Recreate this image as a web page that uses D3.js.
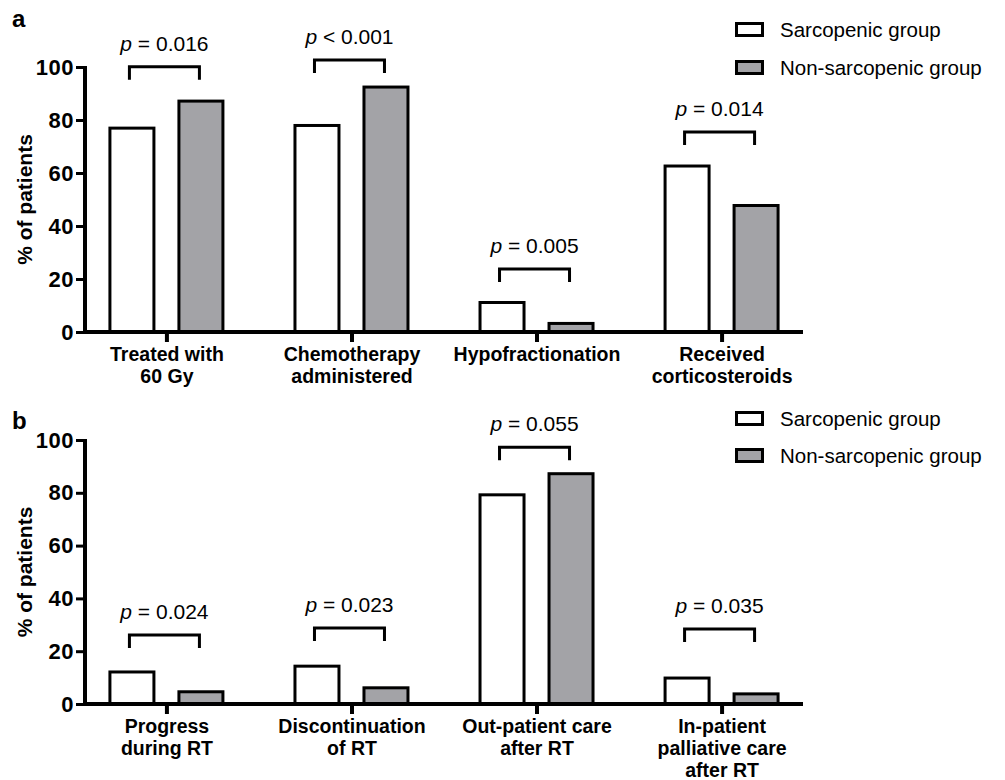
<!DOCTYPE html>
<html>
<head>
<meta charset="utf-8">
<script src="https://cdn.jsdelivr.net/npm/d3@7"></script>
<style>
  html, body { margin: 0; padding: 0; background: #fff; }
  svg { display: block; font-family: "Liberation Sans", Arial, Helvetica, sans-serif; }
</style>
</head>
<body>
<svg id="chart" width="1005" height="780"></svg>
<script>
// ---------------- data ----------------
const seriesNames = ["Sarcopenic group", "Non-sarcopenic group"];
const yTicks = [0, 20, 40, 60, 80, 100];

const panelACategories = [["Treated with", "60 Gy"], ["Chemotherapy", "administered"], ["Hypofractionation"], ["Received", "corticosteroids"]];
const panelASarcopenic = [77.5, 78.5, 11.7, 63.2];
const panelANonSarcopenic = [87.7, 93.0, 3.8, 48.3];
const panelAPValues = ["= 0.016", "< 0.001", "= 0.005", "= 0.014"];
const panelABracketLevels = [100.1, 102.6, 23.8, 75.5];

const panelBCategories = [["Progress", "during RT"], ["Discontinuation", "of RT"], ["Out-patient care", "after RT"], ["In-patient", "palliative care", "after RT"]];
const panelBSarcopenic = [12.7, 14.9, 79.8, 10.4];
const panelBNonSarcopenic = [5.2, 6.7, 87.8, 4.4];
const panelBPValues = ["= 0.024", "= 0.023", "= 0.055", "= 0.035"];
const panelBBracketLevels = [26.1, 28.8, 97.3, 28.4];

// ---------------- drawing ----------------
const svg = d3.select("#chart");
const colors = ["#ffffff", "#a3a3a7"];

function drawPanel(cfg) {
  const g = svg.append("g");
  const x = d3.scalePoint().domain(d3.range(cfg.categories.length)).range([85, 803]).padding(0.44);
  const y = d3.scaleLinear().domain([0, 100]).range([cfg.y0, cfg.y100]);

  // panel letter
  g.append("text").attr("x", 12).attr("y", cfg.letterY)
    .attr("font-size", 24).attr("font-weight", "bold").text(cfg.letter);

  // y title
  g.append("text")
    .attr("transform", `translate(32,${(cfg.y0 + cfg.y100) / 2}) rotate(-90)`)
    .attr("text-anchor", "middle").attr("font-size", 21).attr("font-weight", "bold")
    .text("% of patients");

  // bars
  const barW = 47, gap = 11, sw = 3;
  const series = [cfg.sarc, cfg.non];
  series.forEach((vals, si) => {
    g.selectAll(null).data(vals).enter().append("rect")
      .attr("x", (d, i) => (si === 0 ? x(i) - gap - barW : x(i) + gap) + sw / 2)
      .attr("width", barW - sw)
      .attr("y", d => y(d) + sw / 2)
      .attr("height", d => y(0) - y(d) - sw / 2)
      .attr("fill", colors[si]).attr("stroke", "#000").attr("stroke-width", sw);
  });

  // y axis
  const yAxis = d3.axisLeft(y).tickValues(yTicks).tickSize(9).tickSizeOuter(0).tickPadding(2);
  const ya = g.append("g").attr("transform", "translate(85,0)").call(yAxis);
  ya.select(".domain").attr("stroke-width", 4).attr("d", `M0,${cfg.y100 - 1}V${cfg.y0 + 2}`);
  ya.selectAll(".tick line").attr("stroke-width", 3);
  ya.selectAll(".tick text").attr("font-size", 22).attr("font-weight", "bold")
    .attr("letter-spacing", 0.5).attr("fill", "#000").attr("font-family", null);

  // x axis
  const xAxis = d3.axisBottom(x).tickSize(10).tickSizeOuter(0).tickFormat("");
  const xa = g.append("g").attr("transform", `translate(0,${cfg.y0})`).call(xAxis);
  xa.select(".domain").attr("stroke-width", 4).attr("d", "M83,0H803");
  xa.selectAll(".tick line").attr("stroke-width", 4);
  xa.selectAll(".tick").each(function (d) {
    const t = d3.select(this).append("text").attr("fill", "#000")
      .attr("font-size", 19.5).attr("font-weight", "bold").attr("text-anchor", "middle")
      .attr("font-family", "Liberation Sans, Arial, sans-serif");
    cfg.categories[d].forEach((line, li) => {
      t.append("tspan").attr("x", 0).attr("y", 29 + li * 22).text(line);
    });
  });

  // significance brackets
  cfg.brackets.forEach((lvl, i) => {
    const top = y(lvl), x1 = x(i) - 37, x2 = x(i) + 33;
    g.append("path")
      .attr("d", `M${x1},${top + 13}V${top}H${x2}V${top + 13}`)
      .attr("fill", "none").attr("stroke", "#000").attr("stroke-width", 3);
    const t = g.append("text").attr("x", (x1 + x2) / 2).attr("y", top - 16)
      .attr("text-anchor", "middle").attr("font-size", 21);
    t.append("tspan").attr("font-style", "italic").text("p");
    t.append("tspan").text(" " + cfg.pvals[i]);
  });

  // legend
  seriesNames.forEach((name, si) => {
    const ly = cfg.legendY + si * cfg.legendStep;
    g.append("rect").attr("x", 736.5).attr("y", ly - 13.5).attr("width", 26).attr("height", 12)
      .attr("fill", colors[si]).attr("stroke", "#000").attr("stroke-width", 3);
    g.append("text").attr("x", 780).attr("y", ly).attr("font-size", 20.5).text(name);
  });
}

drawPanel({
  letter: "a", letterY: 27, y0: 332, y100: 67,
  categories: panelACategories, sarc: panelASarcopenic, non: panelANonSarcopenic,
  pvals: panelAPValues, brackets: panelABracketLevels,
  legendY: 37, legendStep: 38
});
drawPanel({
  letter: "b", letterY: 429, y0: 704, y100: 440,
  categories: panelBCategories, sarc: panelBSarcopenic, non: panelBNonSarcopenic,
  pvals: panelBPValues, brackets: panelBBracketLevels,
  legendY: 426, legendStep: 37
});
</script>
</body>
</html>
